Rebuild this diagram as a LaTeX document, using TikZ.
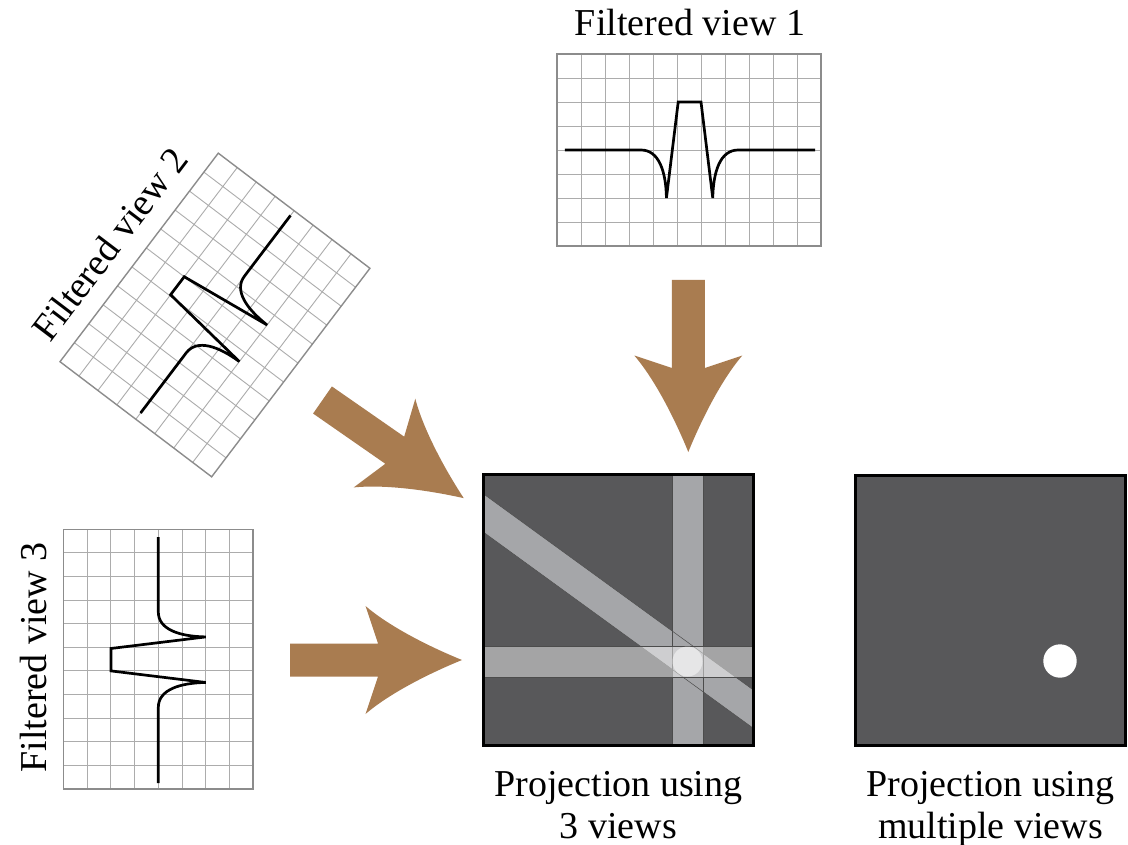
\documentclass[tikz,border=0pt]{standalone}
\usepackage{fontspec}
\setmainfont{Liberation Serif}

\definecolor{arrowbrown}{RGB}{169,124,80}
\definecolor{screen}{RGB}{88,88,90}
\definecolor{bandgray}{RGB}{165,166,169}
\definecolor{gridgray}{RGB}{172,172,172}
\definecolor{gridedge}{RGB}{140,140,140}

\tikzset{
  gridline/.style={draw=gridgray, line width=0.9pt},
  gridframe/.style={draw=gridedge, line width=1.4pt},
  profile/.style={draw=black, line width=2.7pt},
  labeltext/.style={font=\fontsize{38}{42}\selectfont, inner sep=0pt},
  projbox/.style={fill=screen, minimum width=270.5pt, minimum height=270.5pt,
                  inner sep=0pt, outer sep=0pt},
  boxframe/.style={draw=black, line width=3pt},
  bandedge/.style={draw=black!70, line width=0.5pt},
  pics/fatarrow/.style={code={
    \fill[arrowbrown] (0,-16.5) -- (88,-16.5) -- (75.5,-54)
      .. controls (100,-33) and (140,-13) .. (172,0)
      .. controls (140,13) and (100,33) .. (75.5,54)
      -- (88,16.5) -- (0,16.5) -- cycle;
  }}
}

% one filtered profile on its 11 x 8 grid, in cell units (u right, v down)
\newcommand{\filteredview}{%
  \fill[white] (0,0) rectangle (11,8);
  \draw[gridline] \foreach \i in {1,...,10}{(\i,0) -- (\i,8)}
                  \foreach \j in {1,...,7}{(0,\j) -- (11,\j)};
  \draw[gridframe] (0,0) rectangle (11,8);
  \draw[profile] (0.33,4) -- (3.5,4)
     .. controls (4.25,4) and (4.54,4.9) .. (4.56,6)
     -- (5.05,2) -- (6,2) -- (6.49,6)
     .. controls (6.51,4.9) and (6.8,4) .. (7.55,4) -- (10.75,4);
}

\begin{document}
\begin{tikzpicture}[x=1pt, y=-1pt]
  \fill[white] (0,0) rectangle (1128,845);
  \useasboundingbox (0,0) rectangle (1128,845);

  % filtered views
  \begin{scope}[shift={(557,54)}, x={(24pt,0pt)}, y={(0pt,-24pt)}]
    \filteredview
  \end{scope}
  \begin{scope}[shift={(60,361.7)}, rotate=52.8, x={(23.8pt,0pt)}, y={(0pt,-23.8pt)}]
    \filteredview
  \end{scope}
  \begin{scope}[shift={(63.5,529.3)}, x={(0pt,-23.6pt)}, y={(23.7pt,0pt)}]
    \filteredview
  \end{scope}

  \node[labeltext, anchor=base] (lbl1) at (690,36) {Filtered view 1};
  \node[labeltext, anchor=base, rotate=52.8] (lbl2) at (120,252) {Filtered view 2};
  \node[labeltext, anchor=base, rotate=90] (lbl3) at (46.7,657.5) {Filtered view 3};

  % back-projection arrows
  \pic[rotate=-90] at (688.3,280) {fatarrow};
  \pic[rotate=-34.8] at (322.5,400) {fatarrow};
  \pic at (290,660) {fatarrow};

  % projection from three views
  \node[projbox] (proj3) at (618.4,610) {};
  \begin{scope}
    \clip (proj3.south west) rectangle (proj3.north east);
    \fill[bandgray] (672.3,460) rectangle (703,760);
    \fill[bandgray] (470,484.1) -- (770,702.1) -- (770,740.4) -- (470,522.4) -- cycle;
    \draw[bandedge] (672.3,460) -- (672.3,760) (703,460) -- (703,760);
    \draw[bandedge] (470,484.1) -- (770,702.1) (470,522.4) -- (770,740.4);
    \fill[white, fill opacity=0.46] (470,646) rectangle (770,677.3);
    \draw[bandedge] (470,646) -- (770,646) (470,677.3) -- (770,677.3);
    \fill[white, fill opacity=0.5] (687.5,661.5) circle[radius=15pt];
  \end{scope}
  \draw[boxframe] (proj3.south west) rectangle (proj3.north east);

  % projection from many views
  \node[projbox] (projN) at (990.5,610.3) {};
  \fill[white] (1060,661) circle[radius=16.7pt];
  \draw[boxframe] (projN.south west) rectangle (projN.north east);

  \node[labeltext, anchor=base] (cap3a) at (618.4,796) {Projection using};
  \node[labeltext, anchor=base] (cap3b) at (618.4,838) {3 views};
  \node[labeltext, anchor=base] (capNa) at (990.5,796) {Projection using};
  \node[labeltext, anchor=base] (capNb) at (990.5,838) {multiple views};
\end{tikzpicture}
\end{document}
